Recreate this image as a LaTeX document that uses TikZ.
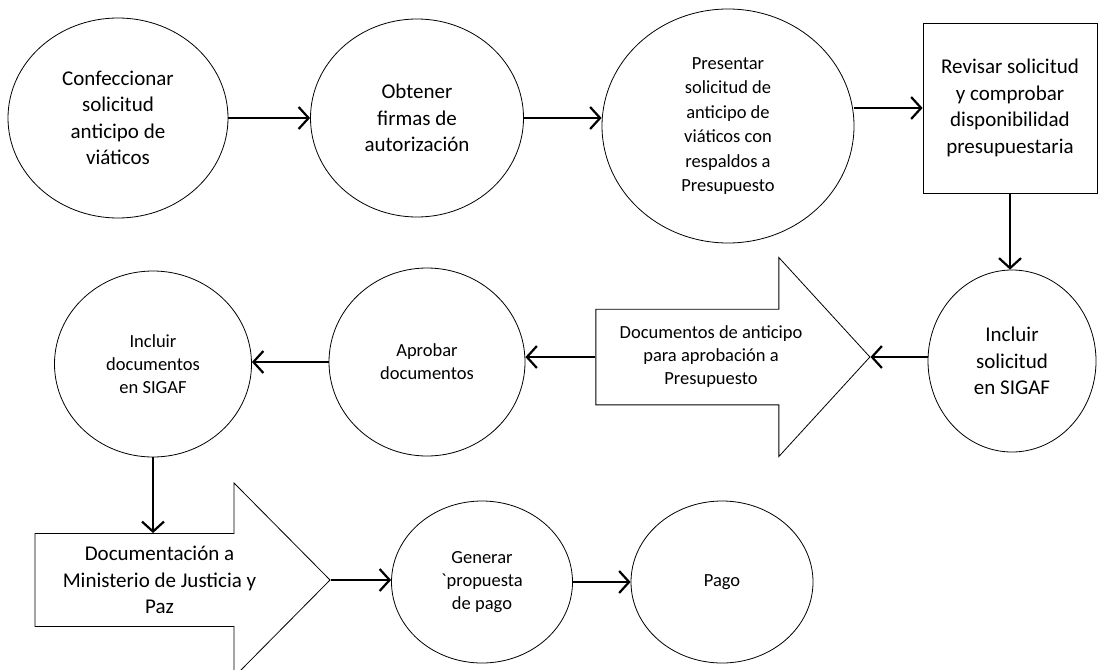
\documentclass[tikz,border=0pt]{standalone}
\usepackage{fontspec}
\setmainfont{Carlito}
\usetikzlibrary{arrows.meta,shapes.geometric,shapes.arrows}

\tikzset{
  flow/.style={-{Straight Barb[length=10pt,width=22pt]}, line width=2.2pt},
  oval/.style={ellipse, draw, line width=0.8pt, inner sep=0pt, align=center},
  box/.style={rectangle, draw, line width=0.8pt, inner sep=0pt, align=center},
  bigarrow/.style={single arrow, draw, line width=0.8pt, inner xsep=0pt, align=center},
  bigtext/.style={font=\fontsize{21}{26.5}\selectfont},
  smalltext/.style={font=\fontsize{18.5}{23}\selectfont}
}

\begin{document}
\begin{tikzpicture}[x=1pt,y=-1pt]
  \useasboundingbox (0,0) rectangle (1099,669);
  % first row
  \node[oval, bigtext, minimum width=220, minimum height=200] (confec) at (118,118)
       {Confeccionar\\solicitud\\anticipo de\\viáticos};
  \node[oval, bigtext, minimum width=213, minimum height=198] (firmas) at (417,118)
       {Obtener\\firmas de\\autorización};
  \node[oval, smalltext, font=\fontsize{18.5}{24.5}\selectfont, minimum width=252, minimum height=234]
       (present) at (728,126)
       {Presentar\\solicitud de\\anticipo de\\viáticos con\\respaldos a\\Presupuesto};
  \node[box, bigtext, minimum width=174, minimum height=170] (revisar) at (1010,108)
       {Revisar solicitud\\y comprobar\\disponibilidad\\presupuestaria};
  % second row
  \node[oval, bigtext, minimum width=168, minimum height=182] (solsigaf) at (1012,361)
       {Incluir\\solicitud\\en SIGAF};
  \node[bigarrow, smalltext, inner ysep=15pt, minimum width=199, minimum height=274,
        single arrow head extend=50, single arrow tip angle=95.1] (docant) at (711,357)
       {Documentos de anticipo\\para aprobación a\\Presupuesto};
  \node[oval, smalltext, minimum width=196, minimum height=188] (aprobar) at (427,362)
       {Aprobar\\documentos};
  \node[oval, smalltext, minimum width=197, minimum height=186] (docsigaf) at (153,364)
       {Incluir\\documentos\\en SIGAF};
  % third row
  \node[bigarrow, bigtext, inner ysep=11pt, minimum width=194, minimum height=295,
        single arrow head extend=49, single arrow tip angle=90.6] (docmin) at (159.5,580)
       {Documentación a\\Ministerio de Justicia y\\Paz};
  \node[oval, smalltext, minimum width=181, minimum height=162] (generar) at (482,582)
       {Generar\\\textasciigrave propuesta\\de pago};
  \node[oval, smalltext, minimum width=182, minimum height=162] (pago) at (722,582)
       {Pago};

  \draw[flow] (confec.east) -- (firmas.west);
  \draw[flow] (firmas.east) -- (firmas.east -| present.west);
  \draw[flow] (present.east |- revisar.west) -- (revisar.west);
  \draw[flow] (revisar.south) -- (revisar.south |- solsigaf.north);
  \draw[flow] (solsigaf.west |- docant.tip) -- (docant.tip);
  \draw[flow] (docant.tail) -- (docant.tail -| aprobar.east);
  \draw[flow] (aprobar.west) -- (aprobar.west -| docsigaf.east);
  \draw[flow] (docsigaf.south) -- (docsigaf.south |- docmin.90);
  \draw[flow] (docmin.tip) -- (docmin.tip -| generar.west);
  \draw[flow] (generar.east) -- (pago.west);
\end{tikzpicture}
\end{document}
